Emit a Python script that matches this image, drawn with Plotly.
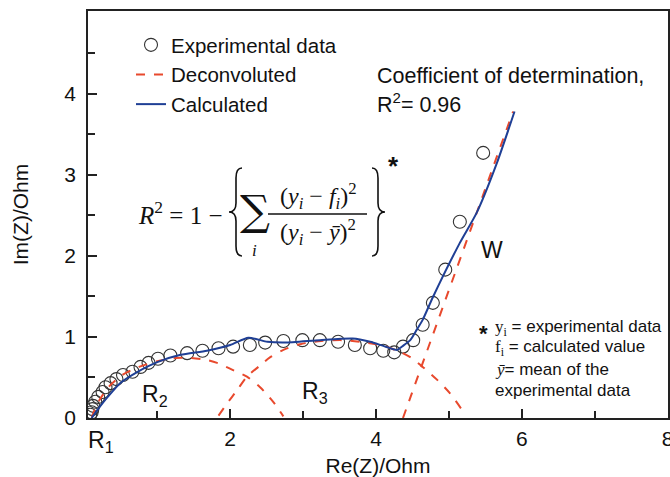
import plotly.graph_objects as go

# ---------------- data ----------------
exp_x = [0.08, 0.10, 0.11, 0.12, 0.15, 0.19, 0.25, 0.29, 0.36, 0.44, 0.53, 0.66, 0.77, 0.88,
         1.01, 1.18, 1.41, 1.62, 1.84, 2.04, 2.27, 2.48, 2.73, 2.99, 3.23, 3.48, 3.71, 3.92,
         4.10, 4.25, 4.37, 4.51, 4.64, 4.78, 4.95, 5.15, 5.47]
exp_y = [0.04, 0.07, 0.11, 0.15, 0.20, 0.26, 0.32, 0.38, 0.43, 0.48, 0.53, 0.57, 0.63, 0.68,
         0.73, 0.77, 0.80, 0.83, 0.86, 0.88, 0.90, 0.93, 0.95, 0.96, 0.96, 0.94, 0.90, 0.86,
         0.83, 0.81, 0.88, 0.96, 1.15, 1.42, 1.83, 2.42, 3.27]

calc_x = [0.10, 0.18, 0.32, 0.49, 0.73, 1.00, 1.32, 1.68, 2.00, 2.25, 2.51, 2.75, 3.23, 3.68,
          3.92, 4.10, 4.29, 4.37, 4.47, 4.56, 4.64, 4.78, 5.15, 5.38, 5.66, 5.90]
calc_y = [0.00, 0.10, 0.26, 0.43, 0.57, 0.69, 0.78, 0.83, 0.90, 0.99, 0.94, 0.93, 0.96, 0.98,
          0.94, 0.89, 0.84, 0.89, 0.96, 1.09, 1.21, 1.49, 2.16, 2.53, 3.15, 3.78]

r2_x = [0.10, 0.14, 0.22, 0.35, 0.52, 0.75, 1.00, 1.25, 1.45, 1.65, 1.82, 2.04, 2.23, 2.41, 2.59, 2.73]
r2_y = [0.00, 0.10, 0.24, 0.40, 0.53, 0.63, 0.70, 0.74, 0.74, 0.72, 0.68, 0.59, 0.51, 0.38, 0.20, 0.02]

r3_x = [1.84, 1.95, 2.10, 2.23, 2.40, 2.55, 2.73, 2.96, 3.25, 3.55, 3.85, 4.10, 4.29, 4.47, 4.64, 4.84, 5.01, 5.18]
r3_y = [0.03, 0.17, 0.35, 0.51, 0.64, 0.75, 0.84, 0.91, 0.95, 0.96, 0.93, 0.89, 0.83, 0.75, 0.63, 0.47, 0.31, 0.10]

w_x = [4.37, 5.88]
w_y = [0.00, 3.78]

x_tickvals = [2, 4, 6, 8]
x_minor = [1, 3, 5, 7]
y_tickvals = [0, 1, 2, 3, 4]
y_minor = [0.5, 1.5, 2.5, 3.5, 4.5]

BLUE = "#1f3f95"
RED = "#e8492d"
SANS = "Liberation Sans, Arial, sans-serif"
SERIF = "Liberation Serif, Times New Roman, serif"
TXT = "#111111"

W, H = 670, 477
L, R, T, B = 88, 2, 11, 59
PW, PH = W - L - R, H - T - B


def px(p):
    return (p - L) / PW


def py(p):
    return (H - B - p) / PH


dec_x = r2_x + [None] + r3_x + [None] + w_x
dec_y = r2_y + [None] + r3_y + [None] + w_y

fig = go.Figure()
fig.add_trace(go.Scatter(
    x=exp_x, y=exp_y, mode="markers", name="Experimental data",
    marker=dict(symbol="circle-open", size=13, color="#333333", line=dict(width=1.1)),
))
fig.add_trace(go.Scatter(
    x=dec_x, y=dec_y, mode="lines", name="Deconvoluted",
    line=dict(color=RED, width=2, dash="dash", shape="spline", smoothing=0.8),
))
fig.add_trace(go.Scatter(
    x=calc_x, y=calc_y, mode="lines", name="Calculated",
    line=dict(color=BLUE, width=2, shape="spline", smoothing=0.6),
))

ann = []


def add(text, x, y, size, xanchor="center", yanchor="middle", family=SANS, xref="paper", yref="paper"):
    ann.append(dict(text=text, x=x, y=y, xref=xref, yref=yref, showarrow=False,
                    xanchor=xanchor, yanchor=yanchor,
                    font=dict(size=size, family=family, color=TXT)))


# region labels (data coordinates)
add("R<sub>2</sub>", 0.97, 0.28, 23, xref="x", yref="y")
add("R<sub>3</sub>", 3.16, 0.32, 23, xref="x", yref="y")
add("W", 5.59, 2.07, 23, xref="x", yref="y")
add("R<sub>1</sub>", px(101), py(441), 23)

# coefficient text
add("Coefficient of determination,", px(375), py(76), 21.5, xanchor="left")
add("R<sup>2</sup>= 0.96", px(375), py(103), 21.5, xanchor="left")

# formula
add("<i>R</i><sup>2</sup> = 1 −", px(224), py(213), 25, xanchor="right", family=SERIF)
add("∑", px(255), py(211), 42, family="DejaVu Serif, serif")
add("<i>i</i>", px(254), py(250), 17, family=SERIF)
add("(<i>y<sub>i</sub></i> − <i>f<sub>i</sub></i>)<sup>2</sup>", px(318), py(196), 24, family=SERIF)
add("(<i>y<sub>i</sub></i> − <i>ȳ</i>)<sup>2</sup>", px(318), py(232), 24, family=SERIF)
add("<b>*</b>", px(393), py(166), 26, family=SANS)

# footnote
add("<b>*</b>", px(483), py(333), 22)
add('<span style="font-family:Liberation Serif">y<sub>i</sub></span> = experimental data', px(493), py(328), 17, xanchor="left")
add('<span style="font-family:Liberation Serif">f<sub>i</sub></span> = calculated value', px(493), py(348), 17, xanchor="left")
add('<span style="font-family:Liberation Serif"><i>ȳ</i></span>= mean of the', px(493), py(369), 17, xanchor="left")
add("experimental data", px(493), py(390), 17, xanchor="left")


def brace(xe, xm, xt, y0, ym, y1):
    pts = [
        f"M {px(xe)},{py(y0)}",
        f"Q {px(xm)},{py(y0)} {px(xm)},{py(y0 + 10)}",
        f"L {px(xm)},{py(ym - 9)}",
        f"Q {px(xm)},{py(ym)} {px(xt)},{py(ym)}",
        f"Q {px(xm)},{py(ym)} {px(xm)},{py(ym + 9)}",
        f"L {px(xm)},{py(y1 - 10)}",
        f"Q {px(xm)},{py(y1)} {px(xe)},{py(y1)}",
    ]
    return dict(type="path", xref="paper", yref="paper", path=" ".join(pts),
                line=dict(color=TXT, width=1.6))


shapes = [
    brace(242, 236, 229, 168, 212, 256),
    brace(372, 378, 385, 168, 212, 256),
    dict(type="line", xref="paper", yref="paper", x0=px(268), x1=px(367), y0=py(214), y1=py(214),
         line=dict(color=TXT, width=1.3)),
]

axis_common = dict(
    showline=True, mirror=True, linecolor="#222222", linewidth=1.6,
    ticks="inside", ticklen=9, tickwidth=1.5, tickcolor="#222222",
    showgrid=False, zeroline=False,
    tickfont=dict(size=21, family=SANS, color=TXT),
)

fig.update_layout(
    width=W, height=H,
    margin=dict(l=L, r=R, t=T, b=B, autoexpand=False),
    paper_bgcolor="white", plot_bgcolor="white",
    font=dict(family=SANS, color=TXT),
    showlegend=True,
    legend=dict(x=px(131), y=py(25), xanchor="left", yanchor="top",
                bgcolor="rgba(0,0,0,0)", font=dict(size=20.5, family=SANS, color=TXT),
                tracegroupgap=0),
    xaxis=dict(range=[0.05, 8.005], tickmode="array", tickvals=x_tickvals,
               ticktext=[str(v) for v in x_tickvals], ticklabelstandoff=1,
               ticklabeloverflow="allow",
               minor=dict(tickmode="array", tickvals=x_minor, ticks="inside", ticklen=7,
                          tickwidth=1.5, tickcolor="#222222"),
               title=dict(text="Re(Z)/Ohm", font=dict(size=21, family=SANS, color=TXT), standoff=13),
               automargin=False, **axis_common),
    yaxis=dict(range=[0, 5.02], tickmode="array", tickvals=y_tickvals,
               ticktext=[str(v) for v in y_tickvals], ticklabelstandoff=6,
               minor=dict(tickmode="array", tickvals=y_minor, ticks="inside", ticklen=7,
                          tickwidth=1.5, tickcolor="#222222"),
               title=dict(text="Im(Z)/Ohm", font=dict(size=21, family=SANS, color=TXT), standoff=30),
               automargin=False, **axis_common),
    annotations=ann,
    shapes=shapes,
)

fig.write_html("out.html")
